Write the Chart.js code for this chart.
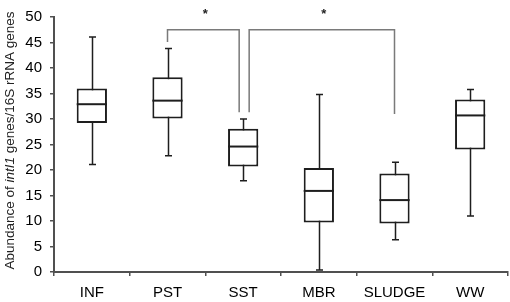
<!DOCTYPE html>
<html>
<head>
<meta charset="utf-8">
<title>intI1 abundance</title>
<script src="https://cdn.jsdelivr.net/npm/chart.js@4.4.1/dist/chart.umd.min.js"></script>
<style>
  html, body { margin: 0; padding: 0; background: #fff; }
  #wrap { width: 510px; height: 302px; position: relative; }
</style>
</head>
<body>
<div id="wrap"><canvas id="chart"></canvas></div>
<script>
// Kategoriler ve kutu grafiği değerleri (görselden okundu)
const categories = ['INF', 'PST', 'SST', 'MBR', 'SLUDGE', 'WW'];
const whiskerMin = [21.1, 22.8, 17.9, 0.4, 6.3, 11.0];
const quartile1 = [29.2, 30.1, 20.7, 9.7, 9.5, 24.0];
const medians = [32.9, 33.6, 24.6, 15.9, 14.1, 30.7];
const quartile3 = [36.0, 38.2, 28.1, 20.4, 19.3, 33.8];
const whiskerMax = [46.1, 43.8, 30.0, 34.8, 21.5, 35.8];

// Anlamlılık köprüleri (*)
const bracketFrom = ['PST', 'SST'];
const bracketTo = ['SST', 'SLUDGE'];
const bracketTop = [47.5, 47.5];
const bracketFromEnd = [45.1, 31.3];
const bracketToEnd = [31.3, 31.0];
const bracketMark = ['*', '*'];

const yTicks = [0, 5, 10, 15, 20, 25, 30, 35, 40, 45, 50];

const axisColor = '#505050';
const boxColor = '#1e1e1e';
const bracketColor = '#7a7a7a';

// Bıyıklar kutuların arkasında kalsın
const whiskerPlugin = {
  id: 'whiskers',
  beforeDatasetsDraw(chart) {
    const ctx = chart.ctx;
    const y = chart.scales.y;
    const bars = chart.getDatasetMeta(0).data;
    ctx.save();
    ctx.strokeStyle = boxColor;
    ctx.lineWidth = 1.5;
    bars.forEach((bar, i) => {
      const x = Math.round(bar.x) + 0.5;
      const top = y.getPixelForValue(whiskerMax[i]);
      const bottom = y.getPixelForValue(whiskerMin[i]);
      ctx.beginPath();
      ctx.moveTo(x, top);
      ctx.lineTo(x, bottom);
      ctx.moveTo(x - 3.5, top);
      ctx.lineTo(x + 3.5, top);
      ctx.moveTo(x - 3.5, bottom);
      ctx.lineTo(x + 3.5, bottom);
      ctx.stroke();
    });
    ctx.restore();
  },
  afterDatasetsDraw(chart) {
    const ctx = chart.ctx;
    const y = chart.scales.y;
    const xs = chart.scales.x;
    const bars = chart.getDatasetMeta(0).data;
    ctx.save();
    // Medyan çizgileri
    ctx.strokeStyle = boxColor;
    ctx.lineWidth = 2;
    bars.forEach((bar, i) => {
      const m = y.getPixelForValue(medians[i]);
      ctx.beginPath();
      ctx.moveTo(bar.x - bar.width / 2, m);
      ctx.lineTo(bar.x + bar.width / 2, m);
      ctx.stroke();
    });

    // Köprüler
    ctx.strokeStyle = bracketColor;
    ctx.lineWidth = 1.5;
    ctx.fillStyle = '#222';
    ctx.font = 'bold 13px "Liberation Sans", Arial, sans-serif';
    ctx.textAlign = 'center';
    ctx.textBaseline = 'alphabetic';
    bracketFrom.forEach((from, k) => {
      const to = bracketTo[k];
      // Aynı kategoriyi paylaşan köprüler biraz kaydırılır
      let x1 = xs.getPixelForValue(categories.indexOf(from));
      let x2 = xs.getPixelForValue(categories.indexOf(to));
      if (bracketTo.includes(from)) x1 += 6;
      if (bracketFrom.includes(to)) x2 -= 4;
      const yTop = y.getPixelForValue(bracketTop[k]);
      ctx.beginPath();
      ctx.moveTo(x1, y.getPixelForValue(bracketFromEnd[k]));
      ctx.lineTo(x1, yTop);
      ctx.lineTo(x2, yTop);
      ctx.lineTo(x2, y.getPixelForValue(bracketToEnd[k]));
      ctx.stroke();
      ctx.fillText(bracketMark[k], (x1 + x2) / 2 + 2, yTop - 12);
    });
    ctx.restore();
  }
};

// Y ekseni başlığı (intI1 italik)
const yTitlePlugin = {
  id: 'yTitle',
  afterDraw(chart) {
    const ctx = chart.ctx;
    const parts = [
      { text: 'Abundance of ', italic: false },
      { text: 'intI1', italic: true },
      { text: ' genes/16S rRNA genes', italic: false }
    ];
    const size = 13.5;
    const fontFor = (p) => (p.italic ? 'italic ' : '') + size + 'px "Liberation Sans", Arial, sans-serif';
    ctx.save();
    let total = 0;
    parts.forEach(p => { ctx.font = fontFor(p); total += ctx.measureText(p.text).width; });
    ctx.translate(10, 140.5);
    ctx.rotate(-Math.PI / 2);
    ctx.fillStyle = '#222';
    ctx.textBaseline = 'middle';
    ctx.textAlign = 'left';
    let pos = -total / 2;
    parts.forEach(p => {
      ctx.font = fontFor(p);
      ctx.fillText(p.text, pos, 0);
      pos += ctx.measureText(p.text).width;
    });
    ctx.restore();
  }
};

const ctx = document.getElementById('chart').getContext('2d');
new Chart(ctx, {
  type: 'bar',
  data: {
    labels: categories,
    datasets: [{
      label: 'IQR',
      data: categories.map((_, i) => [quartile1[i], quartile3[i]]),
      backgroundColor: '#ffffff',
      borderColor: boxColor,
      borderWidth: 2,
      borderSkipped: false,
      barPercentage: 0.4,
      categoryPercentage: 1.0
    }]
  },
  options: {
    responsive: true,
    maintainAspectRatio: false,
    animation: false,
    layout: {
      padding: { top: 11, right: 2, left: 0, bottom: 0 }
    },
    plugins: {
      legend: { display: false },
      tooltip: { enabled: false },
      title: { display: false }
    },
    scales: {
      x: {
        offset: true,
        grid: {
          offset: true,
          drawOnChartArea: false,
          drawTicks: true,
          tickLength: 4,
          color: axisColor,
          lineWidth: 1.5
        },
        border: { color: axisColor, width: 2 },
        ticks: {
          color: '#000',
          padding: 8,
          font: { family: '"Liberation Sans", Arial, sans-serif', size: 15 }
        },
        afterFit: (scale) => { scale.height = 30; }
      },
      y: {
        min: 0,
        max: 50,
        afterBuildTicks: (scale) => { scale.ticks = yTicks.map(v => ({ value: v })); },
        grid: {
          drawOnChartArea: false,
          drawTicks: true,
          tickLength: 4,
          color: axisColor,
          lineWidth: 1.5
        },
        border: { color: axisColor, width: 2 },
        ticks: {
          color: '#000',
          padding: 8,
          font: { family: '"Liberation Sans", Arial, sans-serif', size: 15 }
        },
        afterFit: (scale) => { scale.width = 54; }
      }
    }
  },
  plugins: [whiskerPlugin, yTitlePlugin]
});
</script>
</body>
</html>
